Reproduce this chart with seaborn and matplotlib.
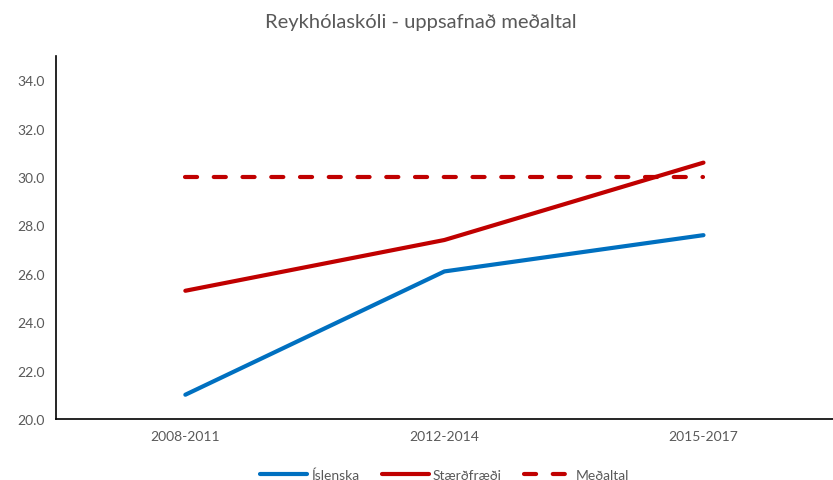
import numpy as np
import pandas as pd
import seaborn as sns
import matplotlib.pyplot as plt

# data
periods = ["2008-2011", "2012-2014", "2015-2017"]
islenska = [21.0, 26.1, 27.6]
staerdfraedi = [25.3, 27.4, 30.6]
medaltal = [30.0, 30.0, 30.0]
series_names = ["Íslenska", "Stærðfræði", "Meðaltal"]

sns.set_style("white")
plt.rcParams['font.family'] = ['Lato', 'DejaVu Sans']
text_color = "#595959"

df = pd.DataFrame({
    "period": periods * 3,
    "x": list(range(len(periods))) * 3,
    "value": islenska + staerdfraedi + medaltal,
    "series": [s for s in series_names for _ in periods],
})

palette = {"Íslenska": "#0070C0", "Stærðfræði": "#C00000", "Meðaltal": "#C00000"}
dash_pattern = (2.9, 4.0)
dashes = {"Íslenska": "", "Stærðfræði": "", "Meðaltal": dash_pattern}

fig = plt.figure(figsize=(8.33, 4.81), dpi=100)
ax = fig.add_axes([0.067, 0.127, 0.933, 0.754])
sns.lineplot(data=df, x="x", y="value", hue="series", style="series",
             palette=palette, dashes=dashes, linewidth=3, ax=ax,
             hue_order=series_names, style_order=series_names,
             dash_capstyle="round", solid_capstyle="round")

ax.set_xlim(-0.5, 2.5)
ax.set_ylim(20, 35)
ax.set_xticks(range(len(periods)))
ax.set_xticklabels(periods)
ax.set_yticks(np.arange(20, 35, 2))
ax.set_yticklabels([f"{v:.1f}" for v in np.arange(20, 35, 2)])
ax.tick_params(axis="both", colors=text_color, labelsize=10, length=0, pad=8)
ax.set_xlabel("")
ax.set_ylabel("")
for side in ["top", "right"]:
    ax.spines[side].set_visible(False)
for side in ["left", "bottom"]:
    ax.spines[side].set_color("black")
    ax.spines[side].set_linewidth(1.2)

fig.text(0.505, 0.953, "Reykhólaskóli - uppsafnað meðaltal", ha="center", va="center",
         fontsize=14.5, color=text_color)

leg = ax.legend(loc="center", bbox_to_anchor=(0.5, -0.153), ncol=3, frameon=False,
                fontsize=10, labelcolor=text_color, handlelength=3.4, columnspacing=1.6,
                handletextpad=0.3)
for h, name in zip(leg.get_lines(), series_names):
    h.set_linewidth(3)
    h.set_dash_capstyle("round")
    h.set_solid_capstyle("round")
    if name == "Meðaltal":
        h.set_dashes(dash_pattern)

fig.savefig("out.png", dpi=100)
